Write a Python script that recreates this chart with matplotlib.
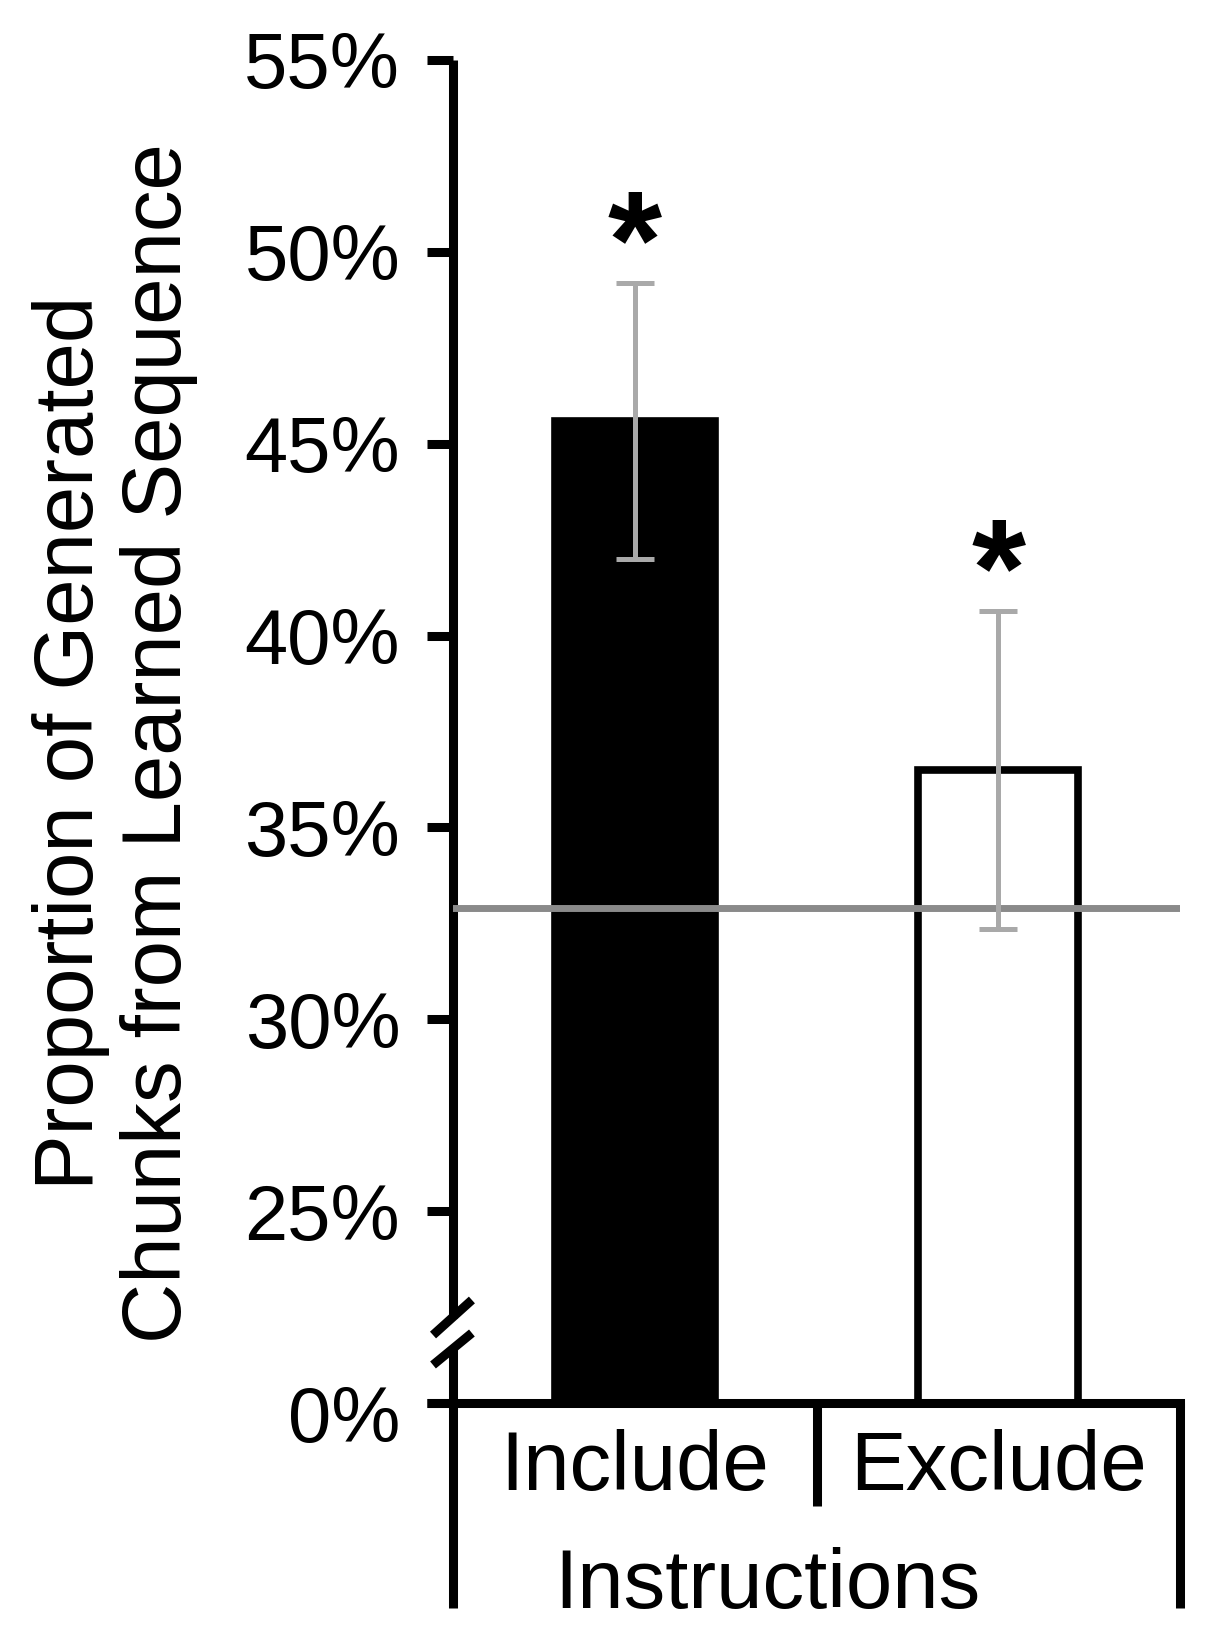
import numpy as np
import matplotlib.pyplot as plt
import matplotlib.transforms as mtransforms

plt.rcParams['font.family'] = ['Liberation Sans', 'DejaVu Sans']

# Data (percent)
categories = ['Include', 'Exclude']
means = np.array([45.6, 36.5])
sem = np.array([3.6, 4.15])
chance = 32.9
bar_colors = ['black', 'white']

# broken axis: the 0% floor sits one tick step below 25%
axis_floor = 20
y_ticks = [20, 25, 30, 35, 40, 45, 50, 55]
y_tick_labels = ['0%', '25%', '30%', '35%', '40%', '45%', '50%', '55%']

fig = plt.figure(figsize=(12.25, 16.39), dpi=100)
ax = fig.add_axes([0.3698, 0.1440, 0.5935, 0.8194])

x = np.arange(len(categories))
ax.bar(x, means - axis_floor, bottom=axis_floor, width=0.44,
       color=bar_colors, edgecolor='black', linewidth=5.5, zorder=2)
ax.axhline(chance, color='#8a8a8a', linewidth=5, zorder=3)
ax.errorbar(x, means, yerr=sem, fmt='none', ecolor='#a9a9a9',
            elinewidth=3.6, capsize=14, capthick=3.6, zorder=4)

# significance stars
for xi, m, e in zip(x, means, sem):
    ax.annotate('*', xy=(xi, m + e), xytext=(0, -3), textcoords='offset points',
                ha='center', va='baseline', fontsize=100, fontweight='bold')

ax.set_xlim(-0.5, 1.5)
ax.set_ylim(axis_floor, 55)
ax.set_yticks(y_ticks, y_tick_labels)
ax.set_xticks(x, categories)

ax.tick_params(axis='y', length=19, width=6.5, pad=19, labelsize=56, color='black')
ax.tick_params(axis='x', length=0, pad=19, labelsize=60)

# the 0% label sits a little below its tick in the original
zero_label = ax.get_yticklabels()[0]
zero_label.set_transform(zero_label.get_transform() +
                         mtransforms.ScaledTranslation(0, -0.11, fig.dpi_scale_trans))

for s in ['top', 'right', 'left']:
    ax.spines[s].set_visible(False)
ax.spines['bottom'].set_linewidth(6.5)

# left axis with break marks, plus Excel-style category box lines
lw = 6.5
kw = dict(transform=ax.transAxes, color='black', linewidth=lw, clip_on=False,
          solid_capstyle='butt')
ax.plot([0, 0], [1.0, 0.0633], **kw)
ax.plot([0, 0], [0.0409, -0.1526], **kw)
ax.plot([-0.0275, 0.026], [0.0506, 0.0767], **kw)
ax.plot([-0.0275, 0.026], [0.0283, 0.0521], **kw)
ax.plot([1, 1], [0, -0.1526], **kw)
ax.plot([0.5, 0.5], [0, -0.077], **kw)
ax.plot([-0.036, 0], [0, 0], **kw)

ax.set_ylabel('Proportion of Generated\nChunks from Learned Sequence',
              fontsize=60, va='center', linespacing=1.15)
ax.yaxis.set_label_coords(-0.465, 0.4914)
ax.set_xlabel('Instructions', fontsize=60, va='baseline')
ax.xaxis.set_label_coords(0.432, -0.1526)

fig.savefig('out.png', dpi=100)
